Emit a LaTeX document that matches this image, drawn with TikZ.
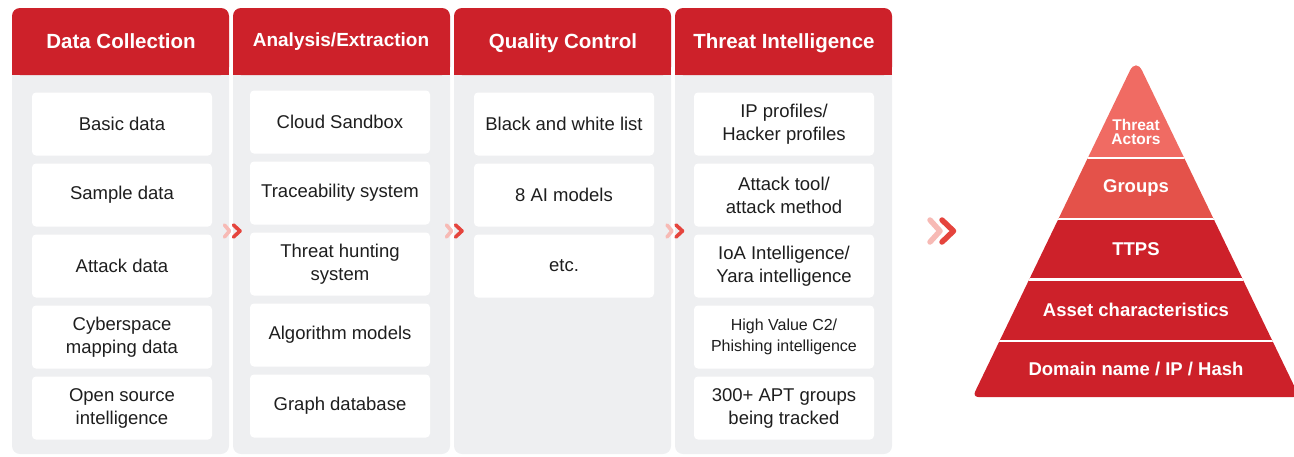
\documentclass[tikz,border=0pt]{standalone}
\usepackage{fontspec}
\setmainfont{Liberation Sans}
\usetikzlibrary{positioning}

\definecolor{hdred}{HTML}{CD212A}
\definecolor{bodygray}{HTML}{EEEFF1}
\definecolor{ink}{HTML}{1E1E1E}
\definecolor{pyrtop}{HTML}{F06B63}
\definecolor{pyrmid}{HTML}{E4524A}
\definecolor{chlight}{HTML}{F7BAB5}
\definecolor{chdark}{HTML}{E5443D}

\begin{document}
\begin{tikzpicture}[x=1pt, y=-1pt]

                \tikzstyle{item} = [rectangle, rounded corners=4pt, fill=white, minimum width=180pt, minimum height=63pt, inner sep=0pt, align=center, text=ink, font=\fontsize{18.5}{23}\selectfont]
                \tikzstyle{head} = [anchor=base, text=white, font=\bfseries\fontsize{20.5}{22}\selectfont]
                \tikzstyle{layer} = [text=white, align=center, font=\bfseries\fontsize{18.5}{20}\selectfont]
                \tikzstyle{chev} = [line width=3.6pt, line cap=round, line join=round]
                \useasboundingbox (0,0) rectangle (1294,456);

                % column bodies and headers
                \fill[bodygray, rounded corners=8pt] (12,8) rectangle (229,454);
                \fill[bodygray, rounded corners=8pt] (233,8) rectangle (450,454);
                \fill[bodygray, rounded corners=8pt] (454,8) rectangle (671,454);
                \fill[bodygray, rounded corners=8pt] (675,8) rectangle (892,454);
                \fill[hdred, rounded corners=8pt] (12,8) rectangle (229,75);
                \fill[hdred, rounded corners=8pt] (233,8) rectangle (450,75);
                \fill[hdred, rounded corners=8pt] (454,8) rectangle (671,75);
                \fill[hdred, rounded corners=8pt] (675,8) rectangle (892,75);
                \fill[hdred] (12,60) rectangle (229,75);
                \fill[hdred] (233,60) rectangle (450,75);
                \fill[hdred] (454,60) rectangle (671,75);
                \fill[hdred] (675,60) rectangle (892,75);

                \node [head](hcollect) at (121,48) {Data Collection};
                \node [head, font=\bfseries\fontsize{19}{22}\selectfont](hanalysis) at (341,46.5) {Analysis/Extraction};
                \node [head](hquality) at (563,48) {Quality Control};
                \node [head](hthreat) at (784,48) {Threat Intelligence};

                % data collection
                \node [item](collA) at (122,124) {Basic data};
                \node [item](collB) at (122,195) {Sample data};
                \node [item](collC) at (122,266) {Attack data};
                \node [item](collD) at (122,337) {Cyberspace\\mapping data};
                \node [item](collE) at (122,408) {Open source\\intelligence};

                % analysis / extraction
                \node [item](anaA) at (340,122) {Cloud Sandbox};
                \node [item](anaB) at (340,193) {Traceability system};
                \node [item](anaC) at (340,264) {Threat hunting\\system};
                \node [item](anaD) at (340,335) {Algorithm models};
                \node [item](anaE) at (340,406) {Graph database};

                % quality control
                \node [item](qualA) at (564,124) {Black and white list};
                \node [item](qualB) at (564,195) {8 AI models};
                \node [item](qualC) at (564,266) {etc.};

                % threat intelligence
                \node [item](intA) at (784,124) {IP profiles/\\Hacker profiles};
                \node [item](intB) at (784,195) {Attack tool/\\attack method};
                \node [item](intC) at (784,266) {IoA Intelligence/\\Yara intelligence};
                \node [item, font=\fontsize{16}{21}\selectfont](intD) at (784,337) {High Value C2/\\Phishing intelligence};
                \node [item](intE) at (784,408) {300+ APT groups\\being tracked};

                % chevrons
                \draw[chlight, chev] (224.5,225) -- ++(5,6) -- ++(-5,6);
                \draw[chdark, chev] (233.5,225) -- ++(6.5,6) -- ++(-6.5,6);
                \draw[chlight, chev] (446.5,225) -- ++(5,6) -- ++(-5,6);
                \draw[chdark, chev] (455.5,225) -- ++(6.5,6) -- ++(-6.5,6);
                \draw[chlight, chev] (667,225) -- ++(5,6) -- ++(-5,6);
                \draw[chdark, chev] (676,225) -- ++(6.5,6) -- ++(-6.5,6);
                \draw[chlight, chev, line width=5.5pt] (930,220) -- ++(10,11) -- ++(-10,11);
                \draw[chdark, chev, line width=5.5pt] (942,220) -- ++(11.5,11) -- ++(-11.5,11);

                % pyramid: round apex, slightly rounded base corners
                \begin{scope}
                \clip[rounded corners=14pt] (1136,58) -- (1349.2,500) -- (922.8,500) -- cycle;
                \clip[rounded corners=6pt] (1136,58) -- (1299.5,397) -- (972.5,397) -- cycle;
                \fill[pyrtop] (950,40) rectangle (1310,158);
                \fill[pyrmid] (950,158) rectangle (1310,219);
                \fill[hdred] (950,219) rectangle (1310,400);
                \draw[white, line width=2.4pt] (950,158) -- (1310,158);
                \draw[white, line width=2.4pt] (950,219) -- (1310,219);
                \draw[white, line width=2.4pt] (950,279.5) -- (1310,279.5);
                \draw[white, line width=2.4pt] (950,341) -- (1310,341);
                \end{scope}

                \node [layer, font=\bfseries\fontsize{15.5}{14.5}\selectfont](actors) at (1136,132) {Threat\\Actors};
                \node [layer](groups) at (1136,188) {Groups};
                \node [layer](ttps) at (1136,249) {TTPS};
                \node [layer](asset) at (1136,310) {Asset characteristics};
                \node [layer](domain) at (1136,369) {Domain name / IP / Hash};
\end{tikzpicture}
\end{document}
